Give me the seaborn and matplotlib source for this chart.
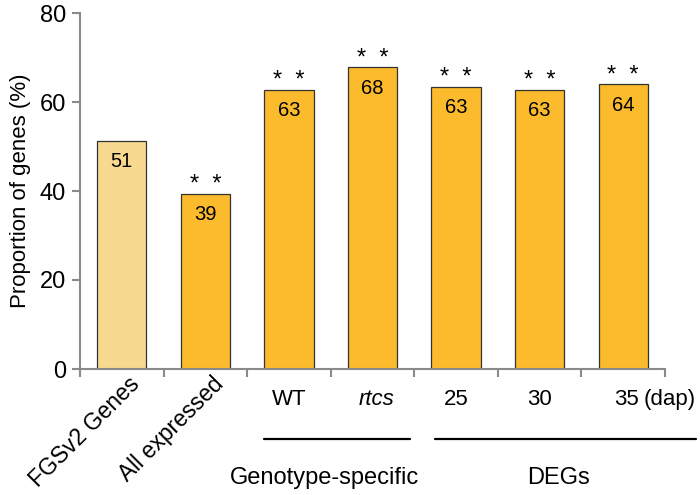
import matplotlib
matplotlib.use("Agg")
import matplotlib.pyplot as plt
import seaborn as sns
import pandas as pd

categories = ["FGSv2 Genes", "All expressed", "WT", "rtcs", "25", "30", "35"]
values = [51.3, 39.4, 62.8, 67.8, 63.4, 62.8, 64.0]
value_labels = ["51", "39", "63", "68", "63", "63", "64"]
significance = ["", "*  *", "*  *", "*  *", "*  *", "*  *", "*  *"]
bar_colors = ["#F7D98F", "#FBBB2C", "#FBBB2C", "#FBBB2C", "#FBBB2C", "#FBBB2C", "#FBBB2C"]
group_labels = ["Genotype-specific", "DEGs"]
yticks = [0, 20, 40, 60, 80]

sns.set_style("white")
plt.rcParams['font.family'] = ['Liberation Sans', 'DejaVu Sans']
plt.rcParams['text.color'] = 'black'
plt.rcParams['axes.labelcolor'] = 'black'
plt.rcParams['ytick.labelcolor'] = 'black'

df = pd.DataFrame({"cat": categories, "val": values})
fig = plt.figure(figsize=(7, 4.95), dpi=100)
ax = fig.add_axes([80/700, 1-369/495, (665-80)/700, (369-13)/495])
sns.barplot(data=df, x="cat", y="val", hue="cat", order=categories, hue_order=categories,
            palette=bar_colors, legend=False, width=0.59, edgecolor="#333333",
            linewidth=0.9, saturation=1, ax=ax)

ax.set_xlim(-0.5, 6.5)
ax.set_ylim(0, 80)
ax.set_yticks(yticks)
ax.set_yticklabels([str(t) for t in yticks], fontsize=17, color="black")
ax.set_ylabel("Proportion of genes (%)", fontsize=16, labelpad=6, color="black")
ax.set_xlabel("")
for s in ["top", "right"]:
    ax.spines[s].set_visible(False)
for s in ["left", "bottom"]:
    ax.spines[s].set_color("#8a8a8a")
    ax.spines[s].set_linewidth(1.5)
ax.tick_params(axis="y", direction="out", length=6, width=1.5, color="#8a8a8a", left=True, pad=4)
ax.set_xticks([i - 0.5 for i in range(8)])
ax.set_xticklabels([])
ax.tick_params(axis="x", direction="out", length=6, width=1.5, color="#8a8a8a", bottom=True)

for i, (v, lab, sig) in enumerate(zip(values, value_labels, significance)):
    ax.text(i, v - 4.7, lab, ha="center", va="center", fontsize=14.5)
    if sig:
        ax.text(i, v + 0.6, sig, ha="center", va="baseline", fontsize=17)

trans = ax.get_xaxis_transform()
# rotated labels
for i in range(2):
    ax.text(i + 0.08, -0.01, categories[i], rotation=45, ha="right", va="top",
            rotation_mode="anchor", fontsize=16.5, transform=trans)
# straight labels
ly = -0.087
ax.text(2, ly, "WT", ha="center", va="center", fontsize=16, transform=trans)
ax.text(3.05, ly, "rtcs", ha="center", va="center", fontsize=16, style="italic", transform=trans)
ax.text(4, ly, "25", ha="center", va="center", fontsize=16, transform=trans)
ax.text(5, ly, "30", ha="center", va="center", fontsize=16, transform=trans)
ax.text(6.04, ly, "35", ha="center", va="center", fontsize=16, transform=trans)
ax.text(6.24, ly, "(dap)", ha="left", va="center", fontsize=16, transform=trans)

# group lines
ax.plot([1.7, 3.45], [-0.198, -0.198], color="black", lw=1.6, transform=trans, clip_on=False)
ax.plot([3.75, 6.87], [-0.198, -0.198], color="black", lw=1.6, transform=trans, clip_on=False)
ax.text(2.43, -0.306, group_labels[0], ha="center", va="center", fontsize=17, transform=trans)
ax.text(5.22, -0.306, group_labels[1], ha="center", va="center", fontsize=17, transform=trans)

fig.savefig("out.png", dpi=100)
